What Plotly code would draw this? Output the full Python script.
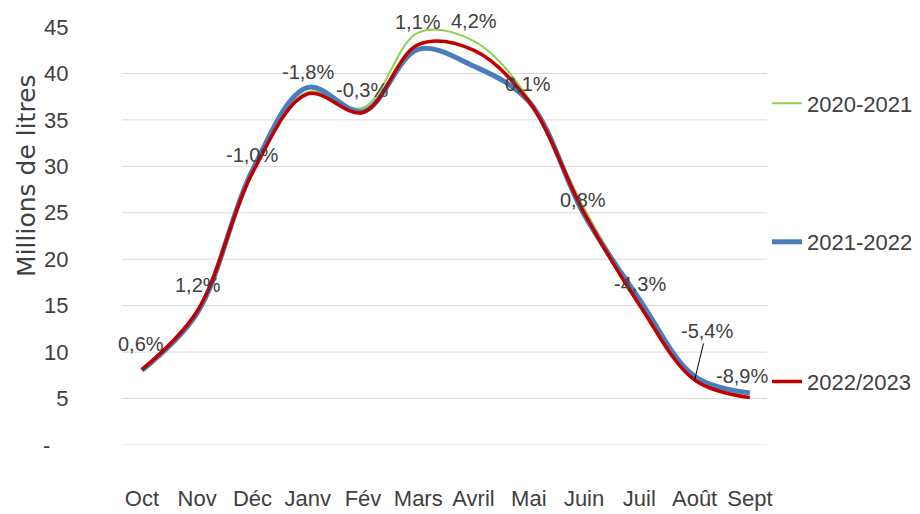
import plotly.graph_objects as go

# ---- data ----
months = ["Oct", "Nov", "Déc", "Janv", "Fév", "Mars", "Avril", "Mai", "Juin", "Juil", "Août", "Sept"]
s2020_2021 = [8.1, 14.4, 29.4, 38.0, 36.3, 44.4, 43.5, 37.3, 25.5, 15.6, 7.5, 5.7]
s2021_2022 = [8.05, 14.2, 29.6, 38.5, 35.9, 42.6, 40.8, 37.0, 24.8, 15.7, 7.4, 5.6]
s2022_2023 = [8.1, 14.4, 29.3, 37.8, 35.8, 43.1, 42.5, 37.0, 25.0, 15.1, 7.0, 5.1]
pct_labels = ["0,6%", "1,2%", "-1,0%", "-1,8%", "-0,3%", "1,1%", "4,2%", "0,1%", "0,8%", "-4,3%", "-5,4%", "-8,9%"]
y_ticks = [0, 5, 10, 15, 20, 25, 30, 35, 40, 45]
y_ticktext = ["-\u00a0\u00a0\u00a0", "5", "10", "15", "20", "25", "30", "35", "40", "45"]

# ---- style ----
FONT = "Liberation Sans, Arial, sans-serif"
TXT = "#404040"
# label offsets in screen pixels (dx right, dy down)
label_shift = [(-1, -26), (1, -26), (0, -18), (0, -22), (-1, -22), (0, -23),
               (0, -29), (-1, -17), (-1, -13), (1, -21), (12, -49), (-8, -22)]

fig = go.Figure()
series = [
    ("2020-2021", s2020_2021, "#92D050", 2, "legend"),
    ("2021-2022", s2021_2022, "#4A7EBB", 5, "legend2"),
    ("2022/2023", s2022_2023, "#C00000", 3.5, "legend3"),
]
for name, vals, col, w, lg in series:
    fig.add_trace(go.Scatter(
        x=months, y=vals, name=name, mode="lines",
        line=dict(color=col, width=w, shape="spline", smoothing=1.0),
        legend=lg, hoverinfo="skip",
    ))

# data labels (attached to 2022/2023 series)
for i, (m, v, t) in enumerate(zip(months, s2022_2023, pct_labels)):
    dx, dy = label_shift[i]
    if m == "Août":
        fig.add_annotation(x=m, y=v, text=t, showarrow=True, ax=dx, ay=dy,
                           arrowhead=0, arrowwidth=1, arrowcolor="#000000",
                           standoff=0, font=dict(family=FONT, size=20, color=TXT))
    else:
        fig.add_annotation(x=m, y=v, text=t, showarrow=False, xshift=dx, yshift=-dy,
                           font=dict(family=FONT, size=20, color=TXT))

# gridlines (none at the top value)
for yv in y_ticks[:-1]:
    fig.add_shape(type="line", xref="paper", x0=0, x1=1, yref="y", y0=yv, y1=yv,
                  line=dict(color="#D9D9D9", width=1), layer="below")

# y axis title
fig.add_annotation(xref="paper", yref="paper", x=-0.148, y=0.645, xanchor="center",
                   yanchor="middle",
                   text="Millions de litres", textangle=-90, showarrow=False,
                   font=dict(family="DejaVu Sans, sans-serif", size=25, color=TXT))

legend_common = dict(xref="paper", yref="paper", xanchor="left", yanchor="middle",
                     bgcolor="rgba(0,0,0,0)", borderwidth=0,
                     font=dict(family=FONT, size=22, color=TXT), itemwidth=30)

fig.update_layout(
    width=920, height=514,
    margin=dict(l=122, r=153, t=26.5, b=68.5, autoexpand=False),
    paper_bgcolor="white", plot_bgcolor="white",
    showlegend=True,
    legend=dict(x=1.0, y=0.8174, **legend_common),
    legend2=dict(x=1.0, y=0.4857, **legend_common),
    legend3=dict(x=1.0, y=0.1516, **legend_common),
    xaxis=dict(type="category", range=[-0.36, 11.31], showgrid=False, showline=False,
               zeroline=False, ticks="outside", ticklen=34, tickcolor="rgba(0,0,0,0)",
               tickangle=0, automargin=False,
               tickfont=dict(family=FONT, size=22, color=TXT)),
    yaxis=dict(range=[0, 45], tickvals=y_ticks, ticktext=y_ticktext, showgrid=False,
               showline=False, zeroline=False, ticks="outside", ticklen=48,
               tickcolor="rgba(0,0,0,0)", automargin=False,
               tickfont=dict(family=FONT, size=22, color=TXT)),
)

fig.write_html("out.html", config={"displayModeBar": False},
               post_script="document.body.style.margin='0';document.body.style.overflow='hidden';")
